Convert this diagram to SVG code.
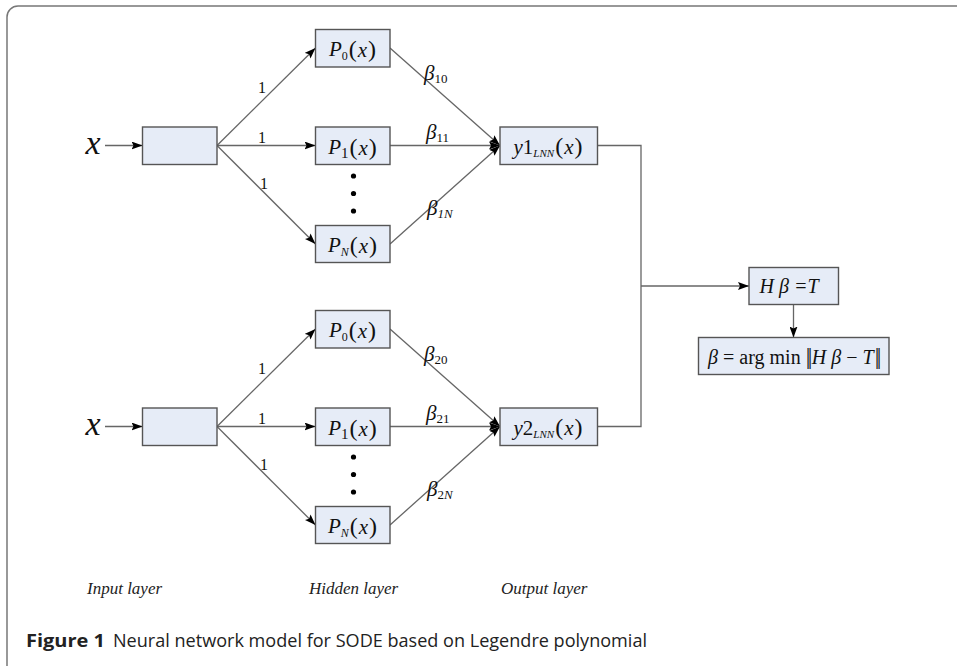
<svg xmlns="http://www.w3.org/2000/svg" width="957" height="666" viewBox="0 0 957 666">
<defs>
<marker id="arr" viewBox="0 0 11 8" refX="11" refY="4" markerWidth="11" markerHeight="8" markerUnits="userSpaceOnUse" orient="auto">
<path d="M0,0 L11,4 L0,8 L2,4 z" fill="#000"/>
</marker>
<style>
.box{fill:#e6ecf7;stroke:#555;stroke-width:1.4}
.ln{fill:none;stroke:#666;stroke-width:1.3}
.m{font-family:"Liberation Serif","Times New Roman",serif;fill:#111}
.i{font-style:italic}
.lay{font-family:"Liberation Serif","Times New Roman",serif;font-style:italic;font-size:17px;fill:#222}
.cap{font-family:"Open Sans","Noto Sans",sans-serif;font-size:18px;fill:#222}
</style>
</defs>
<rect width="957" height="666" fill="#fff"/>
<rect x="7" y="6" width="1000" height="672" rx="11" fill="none" stroke="#777" stroke-width="1.5"/>

<g id="connectors" class="ln">
<line x1="105" y1="145.5" x2="142.5" y2="145.5" marker-end="url(#arr)"/>
<line x1="217" y1="145.5" x2="315.5" y2="48" marker-end="url(#arr)"/>
<line x1="217" y1="145.5" x2="315.5" y2="145.5" marker-end="url(#arr)"/>
<line x1="217" y1="145.5" x2="315.5" y2="244" marker-end="url(#arr)"/>
<line x1="390" y1="48" x2="500" y2="145.5" marker-end="url(#arr)"/>
<line x1="390" y1="145.5" x2="500" y2="145.5" marker-end="url(#arr)"/>
<line x1="390" y1="244" x2="500" y2="145.5" marker-end="url(#arr)"/>
<line x1="105" y1="426.5" x2="142.5" y2="426.5" marker-end="url(#arr)"/>
<line x1="217" y1="426.5" x2="315.5" y2="329" marker-end="url(#arr)"/>
<line x1="217" y1="426.5" x2="315.5" y2="426.5" marker-end="url(#arr)"/>
<line x1="217" y1="426.5" x2="315.5" y2="525" marker-end="url(#arr)"/>
<line x1="390" y1="329" x2="500" y2="426.5" marker-end="url(#arr)"/>
<line x1="390" y1="426.5" x2="500" y2="426.5" marker-end="url(#arr)"/>
<line x1="390" y1="525" x2="500" y2="426.5" marker-end="url(#arr)"/>
<polyline points="597.5,145.5 641,145.5 641,426.5 597.5,426.5"/>
<line x1="641" y1="286" x2="749" y2="286" marker-end="url(#arr)"/>
<line x1="793.5" y1="304.5" x2="793.5" y2="337.5" marker-end="url(#arr)"/>
</g>

<g id="edge-labels" class="m" font-size="16">
<text x="262" y="93" text-anchor="middle">1</text>
<text x="262" y="143" text-anchor="middle">1</text>
<text x="264" y="189" text-anchor="middle">1</text>
<text x="262" y="374" text-anchor="middle">1</text>
<text x="262" y="424" text-anchor="middle">1</text>
<text x="264" y="470" text-anchor="middle">1</text>
</g>

<g id="weight-labels" class="m">
<text x="424" y="80" font-size="21"><tspan class="i">β</tspan><tspan font-size="13" dy="3">10</tspan></text>
<text x="426" y="139" font-size="21"><tspan class="i">β</tspan><tspan font-size="13" dy="3">11</tspan></text>
<text x="427" y="215" font-size="21"><tspan class="i">β</tspan><tspan font-size="13" dy="3" class="i">1N</tspan></text>
<text x="424" y="361" font-size="21"><tspan class="i">β</tspan><tspan font-size="13" dy="3">20</tspan></text>
<text x="426" y="420" font-size="21"><tspan class="i">β</tspan><tspan font-size="13" dy="3">21</tspan></text>
<text x="427" y="496" font-size="21"><tspan class="i">β</tspan><tspan font-size="13" dy="3">2</tspan><tspan font-size="13" class="i">N</tspan></text>
</g>

<g id="input1">
<text class="m i" x="93" y="154" font-size="34" text-anchor="middle">x</text>
<rect class="box" x="142.5" y="127" width="74.5" height="37.5"/>
</g>
<g id="input2">
<text class="m i" x="93" y="435" font-size="34" text-anchor="middle">x</text>
<rect class="box" x="142.5" y="408" width="74.5" height="37.5"/>
</g>

<g id="h1-p0">
<rect class="box" x="315.5" y="29.5" width="74.5" height="37.5"/>
<text class="m" x="352.5" y="56" font-size="21" text-anchor="middle"><tspan class="i">P</tspan><tspan font-size="12" dy="4">0</tspan><tspan font-size="24" dy="-3" dx="1">(</tspan><tspan class="i" dx="1">x</tspan><tspan font-size="24" dx="1">)</tspan></text>
</g>
<g id="h1-p1">
<rect class="box" x="315.5" y="127" width="74.5" height="37.5"/>
<text class="m" x="352.5" y="153.5" font-size="21" text-anchor="middle"><tspan class="i">P</tspan><tspan font-size="15" dy="4">1</tspan><tspan font-size="24" dy="-3" dx="1">(</tspan><tspan class="i" dx="1">x</tspan><tspan font-size="24" dx="1">)</tspan></text>
</g>
<g id="h1-dots" fill="#000">
<circle cx="353.5" cy="176" r="2.6"/>
<circle cx="353.5" cy="193.5" r="2.6"/>
<circle cx="353.5" cy="211" r="2.6"/>
</g>
<g id="h1-pn">
<rect class="box" x="315.5" y="225.5" width="74.5" height="37"/>
<text class="m" x="352.5" y="252" font-size="21" text-anchor="middle"><tspan class="i">P</tspan><tspan font-size="12" dy="4" class="i">N</tspan><tspan font-size="24" dy="-3" dx="1">(</tspan><tspan class="i" dx="1">x</tspan><tspan font-size="24" dx="1">)</tspan></text>
</g>

<g id="h2-p0">
<rect class="box" x="315.5" y="310.5" width="74.5" height="37.5"/>
<text class="m" x="352.5" y="337" font-size="21" text-anchor="middle"><tspan class="i">P</tspan><tspan font-size="12" dy="4">0</tspan><tspan font-size="24" dy="-3" dx="1">(</tspan><tspan class="i" dx="1">x</tspan><tspan font-size="24" dx="1">)</tspan></text>
</g>
<g id="h2-p1">
<rect class="box" x="315.5" y="408" width="74.5" height="37.5"/>
<text class="m" x="352.5" y="434.5" font-size="21" text-anchor="middle"><tspan class="i">P</tspan><tspan font-size="15" dy="4">1</tspan><tspan font-size="24" dy="-3" dx="1">(</tspan><tspan class="i" dx="1">x</tspan><tspan font-size="24" dx="1">)</tspan></text>
</g>
<g id="h2-dots" fill="#000">
<circle cx="353.5" cy="457" r="2.6"/>
<circle cx="353.5" cy="474.5" r="2.6"/>
<circle cx="353.5" cy="492" r="2.6"/>
</g>
<g id="h2-pn">
<rect class="box" x="315.5" y="506.5" width="74.5" height="37"/>
<text class="m" x="352.5" y="533" font-size="21" text-anchor="middle"><tspan class="i">P</tspan><tspan font-size="12" dy="4" class="i">N</tspan><tspan font-size="24" dy="-3" dx="1">(</tspan><tspan class="i" dx="1">x</tspan><tspan font-size="24" dx="1">)</tspan></text>
</g>

<g id="out1">
<rect class="box" x="500" y="127" width="97.5" height="37.5"/>
<text class="m" x="548" y="153.5" font-size="21" text-anchor="middle"><tspan class="i">y</tspan><tspan>1</tspan><tspan font-size="11" dy="3" class="i">LNN</tspan><tspan font-size="24" dy="-3" dx="1">(</tspan><tspan class="i" dx="1">x</tspan><tspan font-size="24" dx="1">)</tspan></text>
</g>
<g id="out2">
<rect class="box" x="500" y="408" width="97.5" height="37.5"/>
<text class="m" x="548" y="434.5" font-size="21" text-anchor="middle"><tspan class="i">y</tspan><tspan>2</tspan><tspan font-size="11" dy="3" class="i">LNN</tspan><tspan font-size="24" dy="-3" dx="1">(</tspan><tspan class="i" dx="1">x</tspan><tspan font-size="24" dx="1">)</tspan></text>
</g>

<g id="system">
<rect class="box" x="749" y="267.5" width="89.5" height="37"/>
<text class="m i" x="789" y="293" font-size="20" text-anchor="middle">H β =T</text>
</g>
<g id="solution">
<rect class="box" x="698.5" y="337.5" width="190.5" height="37"/>
<text class="m" x="793.5" y="363.5" font-size="20" text-anchor="middle"><tspan class="i">β</tspan> = arg min <tspan font-size="23" letter-spacing="-2.5">||</tspan><tspan class="i" dx="2">H β</tspan> − <tspan class="i">T</tspan><tspan font-size="23" letter-spacing="-2.5" dx="1">||</tspan></text>
</g>

<g id="layer-labels">
<text class="lay" x="87" y="594">Input layer</text>
<text class="lay" x="309" y="594">Hidden layer</text>
<text class="lay" x="501" y="594">Output layer</text>
</g>

<g id="caption">
<text class="cap" x="26" y="647" font-weight="bold" textLength="79" lengthAdjust="spacingAndGlyphs">Figure 1</text>
<text class="cap" x="113" y="647" textLength="534" lengthAdjust="spacingAndGlyphs">Neural network model for SODE based on Legendre polynomial</text>
</g>
</svg>
